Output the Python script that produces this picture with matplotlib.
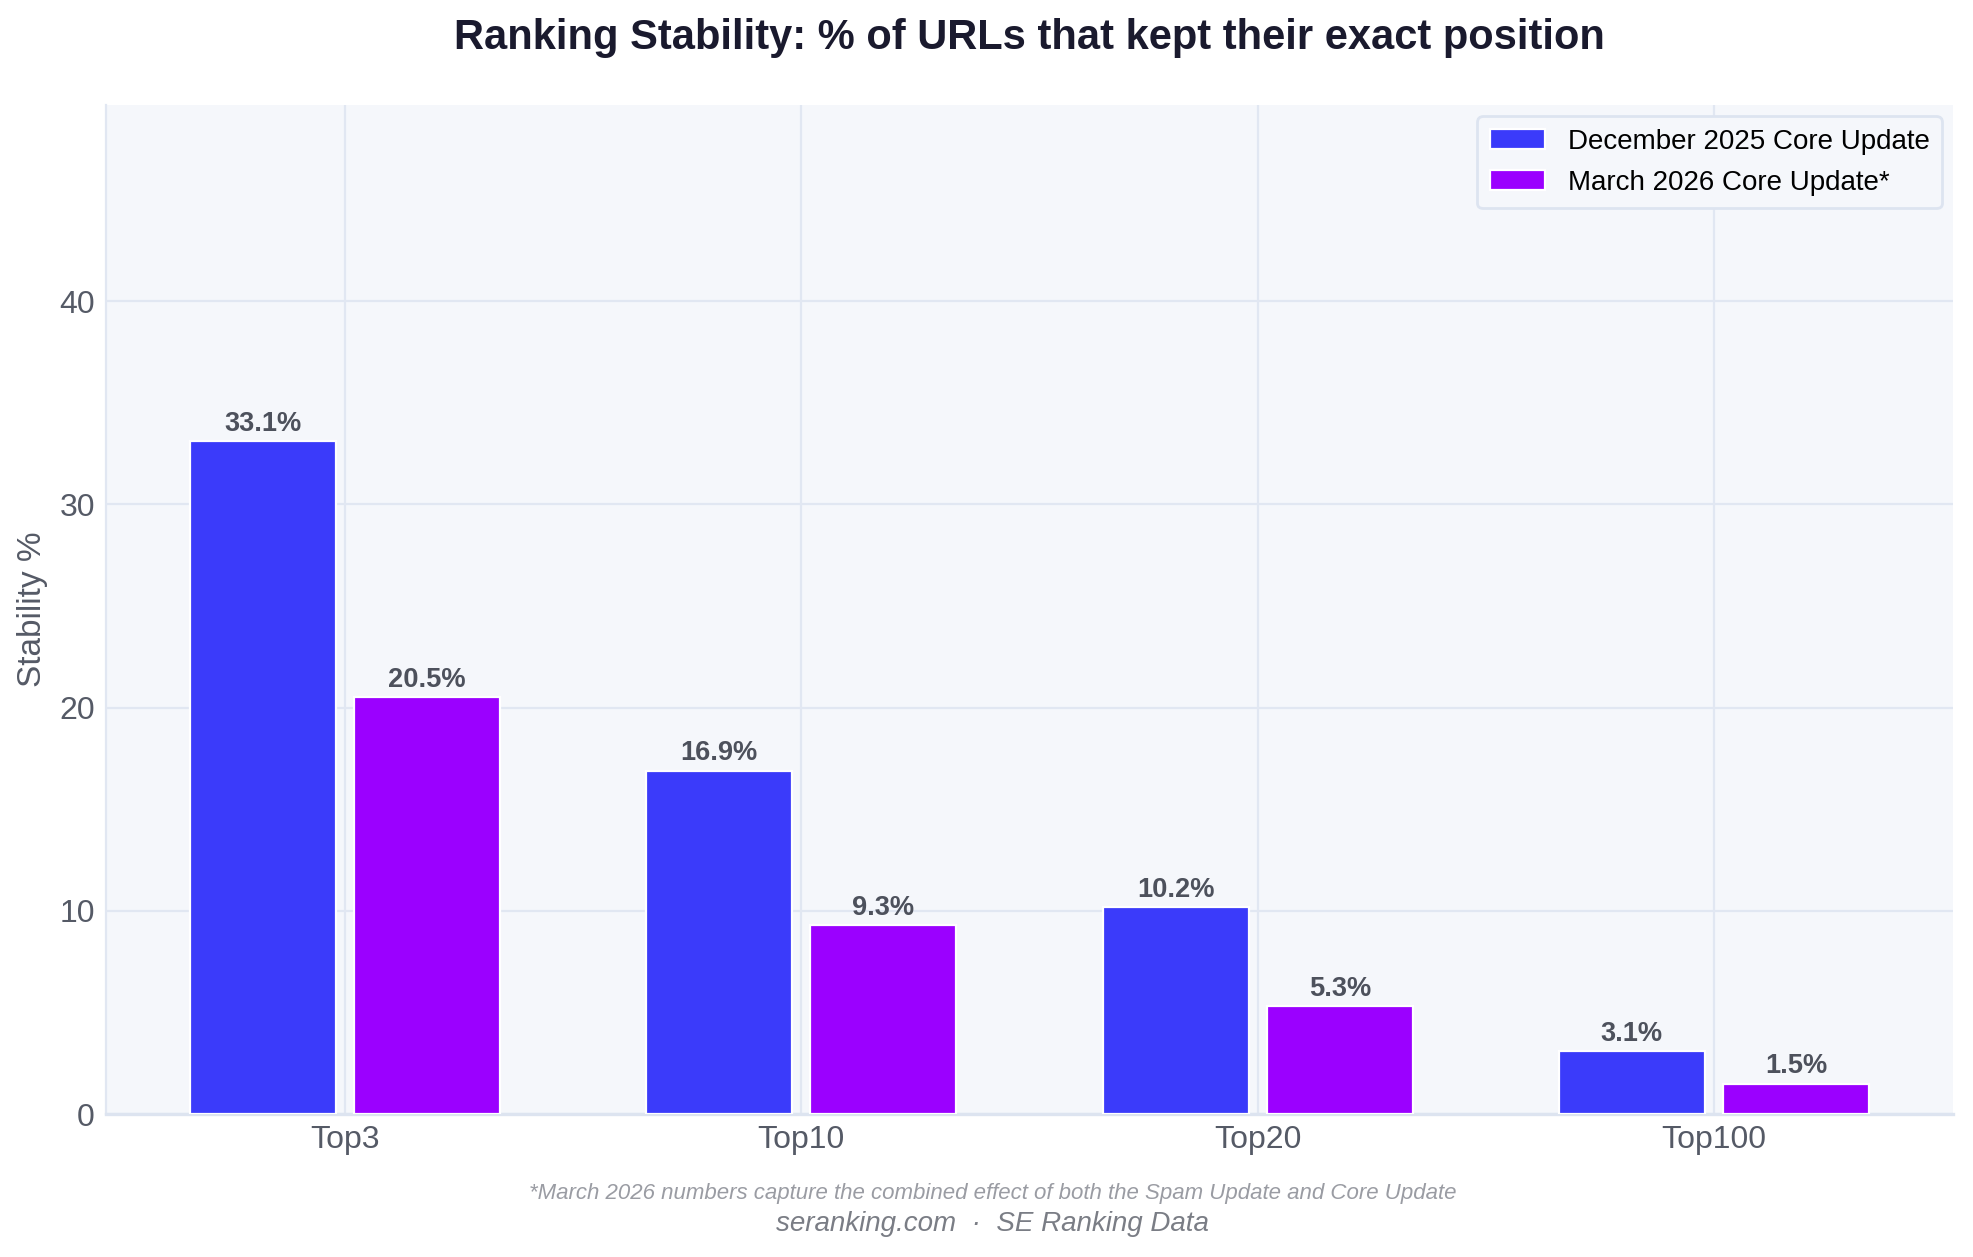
import numpy as np
import matplotlib
matplotlib.use("Agg")
import matplotlib.pyplot as plt

plt.rcParams['font.family'] = ['Liberation Sans', 'DejaVu Sans']

categories = ["Top3", "Top10", "Top20", "Top100"]
dec_2025 = [33.1, 16.9, 10.2, 3.1]
mar_2026 = [20.5, 9.3, 5.3, 1.5]
series_names = ["December 2025 Core Update", "March 2026 Core Update*"]
title = "Ranking Stability: % of URLs that kept their exact position"
ylabel = "Stability %"
footnote = "*March 2026 numbers capture the combined effect of both the Spam Update and Core Update"
source = "seranking.com  ·  SE Ranking Data"

c_blue = "#3b3bfa"
c_purple = "#9b00ff"
grid_c = "#e1e7f2"
bg = "#f5f7fb"
text_c = "#555a66"

W, H = 1974, 1257
fig = plt.figure(figsize=(W/200, H/200), dpi=200)
left, right, top, bottom = 106, 1953, 105, 1114
ax = fig.add_axes([left/W, 1 - bottom/H, (right-left)/W, (bottom-top)/H])
ax.set_facecolor(bg)

x = np.arange(len(categories))
w = 0.32
off = 0.18
b1 = ax.bar(x - off, dec_2025, w, color=c_blue, edgecolor="white", linewidth=0.8,
            label=series_names[0], zorder=3)
b2 = ax.bar(x + off, mar_2026, w, color=c_purple, edgecolor="white", linewidth=0.8,
            label=series_names[1], zorder=3)

for bars, vals in ((b1, dec_2025), (b2, mar_2026)):
    for r, v in zip(bars, vals):
        ax.annotate(f"{v}%", (r.get_x() + r.get_width()/2, r.get_height()),
                    xytext=(0, 1.5), textcoords="offset points",
                    ha="center", va="bottom", fontsize=9.8, fontweight="bold",
                    color="#4d515c", zorder=4)

ax.set_ylim(0, max(dec_2025) * 1.5)
ax.set_xticks(x)
ax.set_xticklabels(categories, fontsize=11.5, color=text_c)
ax.set_yticks([0, 10, 20, 30, 40])
ax.tick_params(axis="y", labelsize=11.5, labelcolor=text_c, length=0, pad=4)
ax.tick_params(axis="x", length=0, pad=4)
ax.set_ylabel(ylabel, fontsize=12, color=text_c, labelpad=4)

ax.grid(True, color=grid_c, linewidth=0.8, zorder=0)
ax.set_axisbelow(True)
for s in ("top", "right"):
    ax.spines[s].set_visible(False)
ax.spines["left"].set_color(grid_c)
ax.spines["left"].set_linewidth(0.8)
ax.spines["bottom"].set_color("#dde4f0")
ax.spines["bottom"].set_linewidth(1.2)

leg = ax.legend(loc="upper right", fontsize=10, frameon=True, fancybox=True,
                borderpad=0.45, handlelength=2.0, handleheight=0.75,
                handletextpad=0.8, labelspacing=0.55, borderaxespad=0.4)
leg.get_frame().set_edgecolor("#dde4f0")
leg.get_frame().set_facecolor(bg)
leg.get_frame().set_alpha(1)
leg.get_frame().set_linewidth(1.0)

ax_center = (left + right) / 2 / W
fig.text(ax_center, 1 - 38/H, title, ha="center", va="center", fontsize=15,
         fontweight="bold", color="#1a1a2e")
fig.text(0.503, 1 - 1193/H, footnote, ha="center", va="center", fontsize=8,
         style="italic", color="#9a9ca3")
fig.text(0.503, 1 - 1224/H, source, ha="center", va="center", fontsize=10,
         style="italic", color="#7a7d85")

fig.savefig("out.png", dpi=200, facecolor="white")
